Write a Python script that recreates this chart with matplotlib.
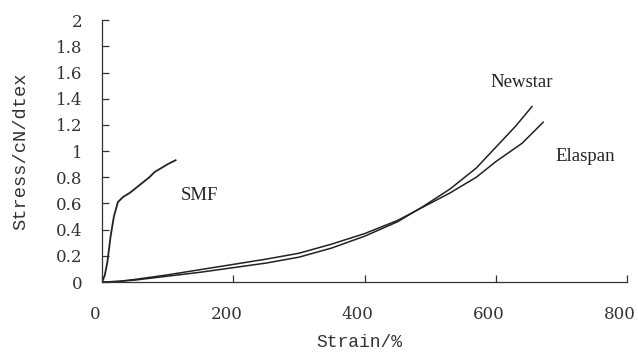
import matplotlib
matplotlib.use('Agg')
import matplotlib.pyplot as plt
from matplotlib.transforms import ScaledTranslation

# Stress-strain curves
smf_strain = [0, 4, 8, 13, 18, 24, 32, 42, 52, 62, 72, 80, 90, 100, 112]
smf_stress = [0, 0.05, 0.15, 0.35, 0.50, 0.61, 0.65, 0.68, 0.72, 0.76, 0.80, 0.84, 0.87, 0.90, 0.93]

newstar_strain = [0, 25, 50, 100, 150, 200, 250, 300, 350, 400, 450, 490, 530, 570, 600, 630, 655]
newstar_stress = [0, 0.005, 0.015, 0.045, 0.075, 0.11, 0.145, 0.19, 0.26, 0.35, 0.46, 0.58, 0.71, 0.87, 1.03, 1.19, 1.34]

elaspan_strain = [0, 25, 50, 100, 150, 200, 250, 300, 350, 400, 450, 490, 530, 570, 600, 640, 672]
elaspan_stress = [0, 0.005, 0.02, 0.055, 0.095, 0.135, 0.175, 0.22, 0.29, 0.37, 0.47, 0.575, 0.68, 0.80, 0.92, 1.06, 1.22]

x_ticks = [0, 200, 400, 600, 800]
y_ticks = [0, 0.2, 0.4, 0.6, 0.8, 1, 1.2, 1.4, 1.6, 1.8, 2]
y_tick_labels = ['0', '0.2', '0.4', '0.6', '0.8', '1', '1.2', '1.4', '1.6', '1.8', '2']

label_font = 'Liberation Mono'
tick_font = 'DejaVu Serif'
note_font = 'Liberation Serif'
ink = '#333333'

fig = plt.figure(figsize=(6.38, 3.53), dpi=100)
ax = fig.add_axes([0.16, 0.201, 0.823, 0.742])

# Curves
ax.plot(smf_strain, smf_stress, color='#222222', lw=1.3)
ax.plot(newstar_strain, newstar_stress, color='#222222', lw=1.1)
ax.plot(elaspan_strain, elaspan_stress, color='#222222', lw=1.1)

# Curve names
ax.text(148, 0.66, 'SMF', fontsize=13.5, family=note_font, ha='center', va='center', color='#222222')
ax.text(640, 1.52, 'Newstar', fontsize=13.5, family=note_font, ha='center', va='center', color='#222222')
ax.text(736, 0.955, 'Elaspan', fontsize=13.5, family=note_font, ha='center', va='center', color='#222222')

# Axes setup
ax.set_xlim(0, 800)
ax.set_ylim(0, 2)
ax.set_xticks(x_ticks)
ax.set_yticks(y_ticks)
ax.set_yticklabels(y_tick_labels)
ax.spines['top'].set_visible(False)
ax.spines['right'].set_visible(False)
for s in ['left', 'bottom']:
    ax.spines[s].set_color(ink)
    ax.spines[s].set_linewidth(0.9)
ax.tick_params(axis='both', direction='in', length=5, width=0.9, color=ink,
               labelsize=12, labelcolor=ink)
ax.tick_params(axis='y', pad=14)
ax.tick_params(axis='x', pad=17)
shift = ScaledTranslation(-7 / 100, 0, fig.dpi_scale_trans)
for lab in ax.get_xticklabels():
    lab.set_family(tick_font)
    lab.set_transform(lab.get_transform() + shift)
for lab in ax.get_yticklabels():
    lab.set_family(tick_font)

ax.set_xlabel('Strain/%', fontsize=13, family=label_font, color=ink, labelpad=7)
ax.xaxis.set_label_coords(0.49, -0.2)
ax.set_ylabel('Stress/cN/dtex', fontsize=13.5, family=label_font, color=ink)
ax.yaxis.set_label_coords(-0.138, 0.5)

plt.savefig('out.png', dpi=100)
